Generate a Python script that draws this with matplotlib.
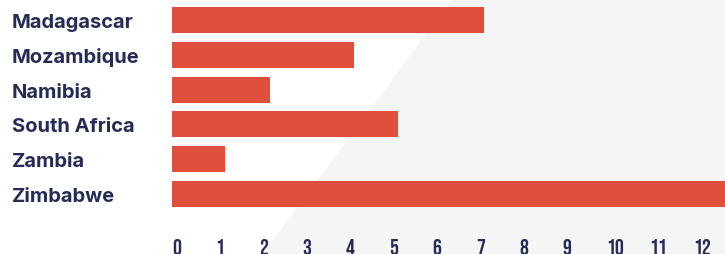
import matplotlib
matplotlib.use("Agg")
import matplotlib.pyplot as plt
from matplotlib.patches import Polygon

countries = ["Madagascar", "Mozambique", "Namibia", "South Africa", "Zambia", "Zimbabwe"]
values = [7.2, 4.2, 2.25, 5.2, 1.22, 13.0]
tick_values = list(range(0, 13))
tick_labels = [str(t) for t in tick_values]

BAR = "#e04f3b"
NAVY = "#262c55"
GRAY = "#f5f5f5"

W, H = 725, 255
fig = plt.figure(figsize=(W / 100, H / 100), dpi=100)
fig.patch.set_facecolor("white")

# diagonal light-gray background panel
bg = Polygon([(452 / W, 1.0), (1.0, 1.0), (1.0, 0.0), (263 / W, 0.0)],
             closed=True, transform=fig.transFigure, facecolor=GRAY,
             edgecolor="none", zorder=-10)
fig.patches.append(bg)

left_px, top_px, bot_px = 172, 3.6, 212.4
ax = fig.add_axes([left_px / W, 1 - bot_px / H, 1 - left_px / W, (bot_px - top_px) / H])
ax.set_zorder(5)
ax.patch.set_alpha(0)

y = list(range(len(countries)))
ax.barh(y, values, height=0.75, color=BAR, zorder=2)
ax.set_ylim(len(countries) - 0.5, -0.5)
ax.set_xlim(0, (W - left_px) / 43.4)

for s in ax.spines.values():
    s.set_visible(False)

ax.set_yticks(y)
ax.set_yticklabels(countries, fontfamily="Inter", fontweight="bold",
                   fontsize=14.5, color=NAVY, ha="left")
ax.tick_params(axis="y", length=0, pad=(left_px - 12) * 0.72)

ax.set_xticks(tick_values)
ax.set_xticklabels(tick_labels, fontfamily="Bebas Neue", fontsize=16,
                   color=NAVY, ha="left")
ax.tick_params(axis="x", length=0, pad=19)

fig.savefig("out.png", dpi=100, facecolor=fig.get_facecolor())
